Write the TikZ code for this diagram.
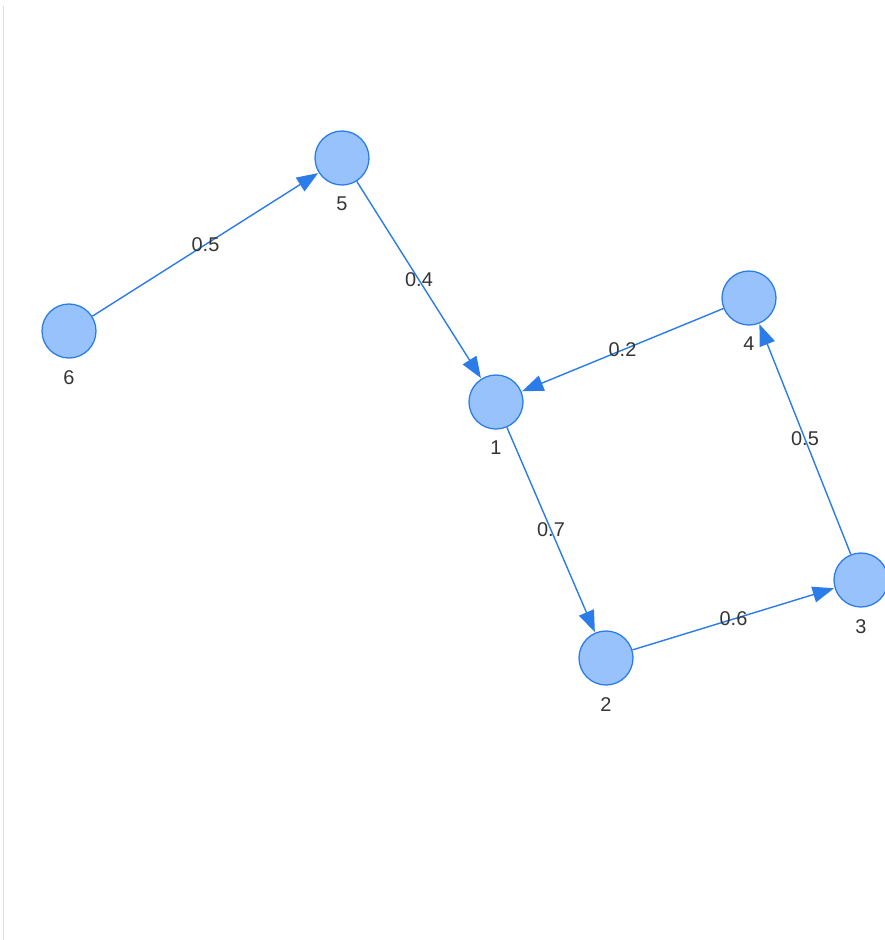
\documentclass[tikz,border=0pt]{standalone}
\usepackage{fontspec}
\setmainfont{Liberation Sans}
\usepackage{tikz}
\usetikzlibrary{arrows.meta}

\definecolor{nodeborder}{HTML}{2B7CE9}
\definecolor{nodefill}{HTML}{97C2FC}
\definecolor{labeltext}{HTML}{343434}
\definecolor{frameline}{HTML}{DDDDDD}

\begin{document}
\begin{tikzpicture}[
    x=0.03cm, y=-0.03cm,
    every node/.style={font=\fontsize{17}{20}\selectfont, text=labeltext},
    vertex/.style={circle, draw=nodeborder, fill=nodefill, line width=1.1pt, minimum size=1.62cm, inner sep=0pt,
        label={[yshift=-0.22cm]below:#1}},
    arrow/.style={-{Triangle[length=0.64cm, width=0.48cm]}, draw=nodeborder, line width=1.2pt, shorten >=0.5pt},
    weight/.style={midway, inner sep=0pt}
]
    \useasboundingbox (0,0) rectangle (884,940);
    \draw[frameline, line width=1pt] (3.5,6) -- (3.5,940);

    % vertices
    \node[vertex=1] (n1) at (496,402) {};
    \node[vertex=2] (n2) at (606,658) {};
    \node[vertex=3] (n3) at (861,580) {};
    \node[vertex=4] (n4) at (749,298) {};
    \node[vertex=5] (n5) at (342,158) {};
    \node[vertex=6] (n6) at (69,331) {};

    % weighted edges
    \draw[arrow] (n6) -- node[weight]{0.5} (n5);
    \draw[arrow] (n5) -- node[weight]{0.4} (n1);
    \draw[arrow] (n4) -- node[weight]{0.2} (n1);
    \draw[arrow] (n1) -- node[weight]{0.7} (n2);
    \draw[arrow] (n2) -- node[weight]{0.6} (n3);
    \draw[arrow] (n3) -- node[weight]{0.5} (n4);
\end{tikzpicture}
\end{document}
